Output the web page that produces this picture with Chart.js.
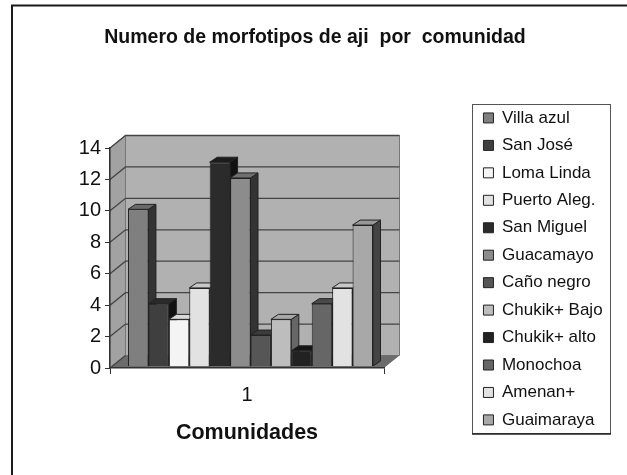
<!DOCTYPE html>
<html><head><meta charset="utf-8">
<style>html,body{margin:0;padding:0;background:#fff}canvas{display:block;filter:blur(.45px)}</style>
<script src="https://cdn.jsdelivr.net/npm/chart.js@4/dist/chart.umd.min.js"></script>
</head><body><canvas id="c" width="627" height="475"></canvas>
<script>
const chartTitle = 'Numero de morfotipos de aji  por  comunidad';
const axisTitle = 'Comunidades';
const categories = ['1'];
const seriesNames = ['Villa azul','San José','Loma Linda','Puerto Aleg.','San Miguel','Guacamayo','Caño negro','Chukik+ Bajo','Chukik+ alto','Monochoa','Amenan+','Guaimaraya'];
const seriesValues = [10,4,3,5,13,12,2,3,1,4,5,9];
const frontColors = ['#7f7f7f','#3f3f3f','#f4f4f4','#e2e2e2','#2b2b2b','#8c8c8c','#565656','#bdbdbd','#222222','#666666','#e2e2e2','#a8a8a8'];
const topColors   = ['#6a6a6a','#2a2a2a','#d8d8d8','#c8c8c8','#1c1c1c','#707070','#3c3c3c','#a8a8a8','#161616','#4a4a4a','#c8c8c8','#989898'];
const sideColors  = ['#333333','#111111','#777777','#666666','#111111','#333333','#222222','#666666','#0c0c0c','#2a2a2a','#666666','#444444'];
const yTicks = [0,2,4,6,8,10,12,14];

const WALL_DX = 15.5, WALL_DY = -12.5, BAR_DX = 7.5, BAR_DY = -5, BAR_SHIFT = 3.5;

function poly(ctx, pts, fill, stroke){
  ctx.beginPath();
  pts.forEach((p,i)=> i ? ctx.lineTo(p[0],p[1]) : ctx.moveTo(p[0],p[1]));
  ctx.closePath();
  if(fill){ctx.fillStyle=fill;ctx.fill();}
  if(stroke){ctx.strokeStyle=stroke;ctx.lineWidth=1;ctx.stroke();}
}

const scene3d = {
  id:'scene3d',
  afterLayout(chart){
    const l = chart.legend;
    l.left = 473; l.right = 610; l.top = 99; l.bottom = 475;
    l.adjustHitBoxes();
    chart.titleBlock.left = 0; chart.titleBlock.right = 630;
  },
  beforeDraw(chart){
    const {ctx, chartArea:a, scales:{y}} = chart;
    ctx.save();
    // outer frame
    ctx.strokeStyle='#1a1a1a'; ctx.lineWidth=2;
    ctx.beginPath(); ctx.moveTo(12,475); ctx.lineTo(12,5.5); ctx.lineTo(627,5.5); ctx.stroke();
    // legend frame
    ctx.strokeStyle='#555'; ctx.lineWidth=1; ctx.strokeRect(472.5,104.5,138,329);
    ctx.strokeStyle='#222'; ctx.lineWidth=1.5;
    ctx.beginPath(); ctx.moveTo(472,434); ctx.lineTo(611,434); ctx.stroke();
    const l=a.left, r=a.right, t=y.getPixelForValue(yTicks[yTicks.length-1]), b=y.getPixelForValue(0);
    poly(ctx,[[l+WALL_DX,t+WALL_DY],[r+WALL_DX,t+WALL_DY],[r+WALL_DX,b+WALL_DY],[l+WALL_DX,b+WALL_DY]],'#b1b1b1','#777');
    poly(ctx,[[l,t],[l+WALL_DX,t+WALL_DY],[l+WALL_DX,b+WALL_DY],[l,b]],'#a2a2a2','#777');
    poly(ctx,[[l,b],[r,b],[r+WALL_DX,b+WALL_DY],[l+WALL_DX,b+WALL_DY]],'#6c6c6c');
    ctx.strokeStyle='#444'; ctx.lineWidth=1.3;
    yTicks.forEach(v=>{
      const p=y.getPixelForValue(v);
      ctx.beginPath(); ctx.moveTo(l,p); ctx.lineTo(l+WALL_DX,p+WALL_DY);
      if(v>0) ctx.lineTo(r+WALL_DX,p+WALL_DY);
      ctx.stroke();
    });
    ctx.restore();
  },
  beforeDatasetsDraw(chart){
    const {ctx} = chart;
    ctx.save();
    ctx.translate(BAR_SHIFT,-1.5);
    seriesValues.forEach((_,i)=>{
      const e = chart.getDatasetMeta(i).data[0];
      const x0=e.x-e.width/2, x1=e.x+e.width/2, yt=e.y, yb=e.base;
      poly(ctx,[[x1,yt],[x1+BAR_DX,yt+BAR_DY],[x1+BAR_DX,yb+BAR_DY],[x1,yb]],sideColors[i],'#222');
      poly(ctx,[[x0,yt],[x0+BAR_DX,yt+BAR_DY],[x1+BAR_DX,yt+BAR_DY],[x1,yt]],topColors[i],'#222');
    });
  },
  afterDatasetsDraw(chart){ chart.ctx.restore(); }
};

Chart.defaults.font.family = '"Liberation Sans", Arial, sans-serif';
Chart.defaults.color = '#1a1a1a';

new Chart(document.getElementById('c'),{
  type:'bar',
  data:{
    labels:categories,
    datasets:seriesNames.map((n,i)=>({
      label:n,
      data:[seriesValues[i]],
      backgroundColor:frontColors[i],
      borderColor:'#222',
      borderWidth:1,
      barPercentage:1,
      categoryPercentage:0.894
    }))
  },
  options:{
    responsive:false,
    animation:false,
    layout:{padding:0},
    scales:{
      x:{
        grid:{offset:true,drawOnChartArea:false,drawTicks:true,tickLength:6,color:'#333'},
        border:{color:'#333',width:1.5},
        ticks:{font:{size:20},padding:9,color:'#111'},
        title:{display:true,text:axisTitle,font:{size:21.5,weight:'bold'},color:'#111',padding:{top:0,bottom:29}},
        afterFit(s){s.height=107;}
      },
      y:{
        min:0,max:14,
        grid:{drawOnChartArea:false,drawTicks:true,tickLength:5,color:'#333'},
        border:{color:'#333',width:1.5},
        afterBuildTicks(s){s.ticks=yTicks.map(v=>({value:v}));},
        ticks:{font:{size:20},padding:4,color:'#111'},
        afterFit(s){s.width=110;}
      },
      gap:{
        type:'linear',position:'right',display:true,
        grid:{display:false},border:{display:false},ticks:{display:false},
        afterFit(s){s.width=243-(s.chart.legend&&s.chart.legend.width||0);}
      }
    },
    plugins:{
      title:{display:true,fullSize:false,text:chartTitle,font:{size:19.5,weight:'bold'},color:'#111',padding:{top:26,bottom:98.6}},
      legend:{
        display:true,position:'right',align:'start',
        labels:{boxWidth:10,boxHeight:10,padding:10.45,font:{size:17},color:'#111'}
      },
      tooltip:{enabled:false}
    }
  },
  plugins:[scene3d]
});
</script></body></html>
